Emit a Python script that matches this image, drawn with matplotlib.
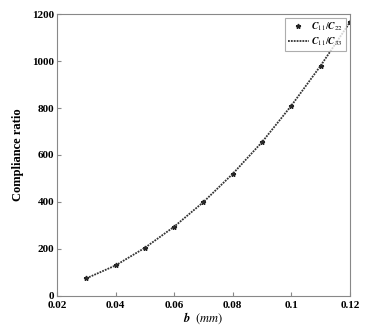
import matplotlib
matplotlib.use('Agg')
import matplotlib.pyplot as plt

plt.rcParams['font.family'] = 'Liberation Serif'
plt.rcParams['mathtext.fontset'] = 'stix'

# data
b = [0.03, 0.04, 0.05, 0.06, 0.07, 0.08, 0.09, 0.10, 0.11, 0.12]
ratio_22 = [75, 130, 205, 295, 400, 520, 655, 810, 980, 1165]
ratio_33 = [75, 130, 205, 295, 400, 520, 655, 810, 980, 1165]
xticks = [0.02, 0.04, 0.06, 0.08, 0.1, 0.12]
xticklabels = ['0.02', '0.04', '0.06', '0.08', '0.1', '0.12']
yticks = [0, 200, 400, 600, 800, 1000, 1200]

fig = plt.figure(figsize=(3.66, 3.27), dpi=100)
ax = fig.add_axes([0.156, 0.095, 0.80, 0.862])

ax.plot(b, ratio_22, linestyle='none', marker='*', markersize=3.5, color='#222222',
        label=r'$\mathbfit{C}_{11}/\mathbfit{C}_{22}$')
ax.plot(b, ratio_33, linestyle=(0, (1, 0.6)), linewidth=1.3, color='#333333',
        label=r'$\mathbfit{C}_{11}/\mathbfit{C}_{33}$')

ax.set_xlim(0.02, 0.12)
ax.set_ylim(0, 1200)
ax.set_xticks(xticks)
ax.set_xticklabels(xticklabels)
ax.set_yticks(yticks)
ax.tick_params(direction='in', length=3, labelsize=8, color='#888888')
ax.tick_params(axis='x', pad=4)
ax.tick_params(axis='y', pad=2)
for lbl in ax.get_xticklabels() + ax.get_yticklabels():
    lbl.set_fontweight('bold')
for s in ax.spines.values():
    s.set_color('#888888')
    s.set_linewidth(0.8)

ax.set_xlabel(r'$\mathbfit{b}$  $(\mathit{mm})$', fontsize=9, labelpad=0)
ax.set_ylabel('Compliance ratio', fontsize=9, fontweight='bold', labelpad=6)

leg = ax.legend(loc='upper right', fontsize=7, frameon=True, fancybox=False,
                borderpad=0.3, handlelength=2.2, handletextpad=0.2,
                labelspacing=0.2, borderaxespad=0.4, numpoints=1)
leg.get_frame().set_edgecolor('#999999')
leg.get_frame().set_linewidth(0.8)

fig.savefig('out.png', dpi=100)
